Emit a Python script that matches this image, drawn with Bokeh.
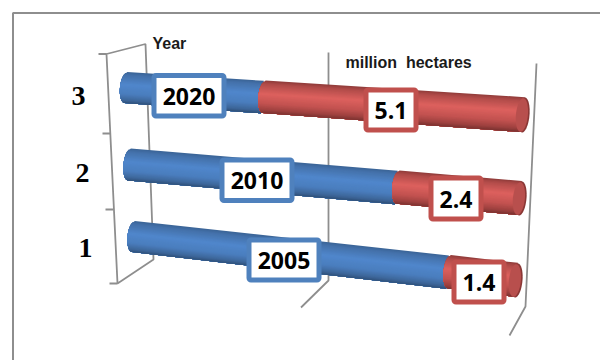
import numpy as np
from bokeh.core.properties import value
from bokeh.embed import file_html
from bokeh.models import Range1d
from bokeh.plotting import figure
from bokeh.resources import INLINE

# Forest area by year, in million hectares
categories = ["1", "2", "3"]
years = ["2005", "2010", "2020"]
red_values = [1.4, 2.4, 5.1]
blue_values = [5.6, 4.8, 2.6]

BLUE_STOPS = [(0.0, "#3a6496"), (0.1, "#4471aa"), (0.4, "#5087cc"), (0.7, "#4a7dbd"), (0.9, "#3d6699"), (1.0, "#2f5078")]
RED_STOPS = [(0.0, "#8f3b39"), (0.1, "#b04b49"), (0.4, "#dd615e"), (0.7, "#c25250"), (0.9, "#9c403e"), (1.0, "#7a3230")]
FONT_BOX = value("Open Sans")
GRAY = "#8e8e8e"

# Projected geometry of each tube: start point, end point, half thickness at both ends
TUBES = [
    dict(x0=127, y0=236, x1=522, y1=280, h0=15.5, h1=17),
    dict(x0=123, y0=164, x1=526, y1=198, h0=16, h1=17),
    dict(x0=119.5, y0=87, x1=529, y1=114.5, h0=15.5, h1=17.5),
]
BOXES = {
    "blue": [(246, 321, 237, 282), (219, 294, 157, 202.5), (151, 226, 72.5, 118)],
    "red": [(451, 506, 259, 304), (428, 483, 175, 221), (363, 418, 87, 132)],
}
TICK_POS = [(85, 247), (82, 172), (78, 95)]
RX = 6.0
LEAN = 1.4
STRIPS = 30


def hex_rgb(c):
    return np.array([int(c[i:i + 2], 16) for i in (1, 3, 5)], dtype=float)


def shade(stops, t):
    ts = [s[0] for s in stops]
    rgb = np.array([hex_rgb(s[1]) for s in stops])
    vals = [np.interp(t, ts, rgb[:, k]) for k in range(3)]
    return "#%02x%02x%02x" % tuple(int(round(v)) for v in vals)


def edge(tube, share, v, rounded):
    """Point on the tube surface at a share of its length and offset v in [-1, 1]."""
    x = tube["x0"] + share * (tube["x1"] - tube["x0"])
    y = tube["y0"] + share * (tube["y1"] - tube["y0"])
    h = tube["h0"] + share * (tube["h1"] - tube["h0"])
    bulge = RX * (1 - np.sqrt(max(0.0, 1 - v * v))) if rounded else 0.0
    return x + bulge - LEAN * v, y + h * v


def segment(p, tube, s0, s1, stops):
    # Each strip runs down to the tube's lower edge, so later strips paint over it without seams
    for i in range(STRIPS):
        a = -1 + 2 * i / STRIPS
        vs = np.linspace(a, 1, 12)
        left = [edge(tube, s0, v, True) for v in vs]
        right = [edge(tube, s1, v, False) for v in (1, a)]
        pts = left + right
        p.patch([q[0] for q in pts], [q[1] for q in pts],
                fill_color=shade(stops, (i + 0.5) / STRIPS), line_color=None)


def end_cap(p, tube, fill):
    theta = np.linspace(0, 2 * np.pi, 60)
    xs = tube["x1"] - RX + RX * np.cos(theta) - LEAN * np.sin(theta)
    ys = tube["y1"] + tube["h1"] * np.sin(theta)
    p.patch(xs, ys, fill_color=fill, line_color=None)
    # lighter end face, offset left of the dark rim
    p.patch(xs - 1.6, ys * 0.96 + 0.04 * tube["y1"], fill_color="#b84f4d", line_color=None)


p = figure(width=600, height=360, output_backend="svg", toolbar_location=None,
           x_range=Range1d(0, 600), y_range=Range1d(360, 0), min_border=0)
p.xaxis.visible = False
p.yaxis.visible = False
p.grid.visible = False
p.outline_line_color = None
p.background_fill_color = "white"
p.border_fill_color = "white"

# Outer chart frame
p.line([12.5, 12.5, 600], [360, 12.5, 12.5], line_color=GRAY, line_width=2)

# Wire frame of the 3-D plot box
wire = [
    ([98, 106, 145, 153, 117, 106], [53.5, 53.5, 43.5, 259, 283, 53.5]),
    ([109, 117], [283, 283]),
    ([102, 109.5], [133, 133]),
    ([105, 113], [209, 209]),
    ([328, 328, 300.5], [52, 280, 307]),
    ([536, 525, 509], [63, 306, 335]),
]
for wx, wy in wire:
    p.line(wx, wy, line_color=GRAY, line_width=1.8)

# Stacked tubes, back row first
for idx in (2, 1, 0):
    tube = TUBES[idx]
    share = blue_values[idx] / (blue_values[idx] + red_values[idx])
    segment(p, tube, 0.0, share + 0.01, BLUE_STOPS)
    segment(p, tube, share, 1.0 - RX / (tube["x1"] - tube["x0"]), RED_STOPS)
    end_cap(p, tube, "#8a3735")

# Value boxes
for name, color, labels in (("blue", "#4f81bd", years), ("red", "#c0504d", [str(v) for v in red_values])):
    for (l, r, t, b), label in zip(BOXES[name], labels):
        p.quad(left=[l + 2.5], right=[r - 2.5], top=[t + 2.5], bottom=[b - 2.5],
               fill_color="white", line_color=color, line_width=5, border_radius=2)
        p.text([(l + r) / 2], [(t + b) / 2 + 0.5], text=[label], text_align="center",
               text_baseline="middle", text_font=FONT_BOX, text_font_style="bold",
               text_font_size="23px", text_color="black")

# Category labels
for (tx, ty), cat in zip(TICK_POS, categories):
    p.text([tx], [ty], text=[cat], text_align="center", text_baseline="middle",
           text_font=value("Liberation Serif"), text_font_style="bold",
           text_font_size="28px", text_color="black")

# Axis captions
p.text([152], [43], text=["Year"], text_align="left", text_baseline="middle",
       text_font=value("Liberation Sans"), text_font_style="bold",
       text_font_size="16px", text_color="#1a1a1a")
p.text([345], [62], text=["million\u00a0\u00a0hectares"], text_align="left", text_baseline="middle",
       text_font=value("Liberation Sans"), text_font_style="bold",
       text_font_size="16px", text_color="#1a1a1a")

open("out.html", "w").write(file_html(p, INLINE))
